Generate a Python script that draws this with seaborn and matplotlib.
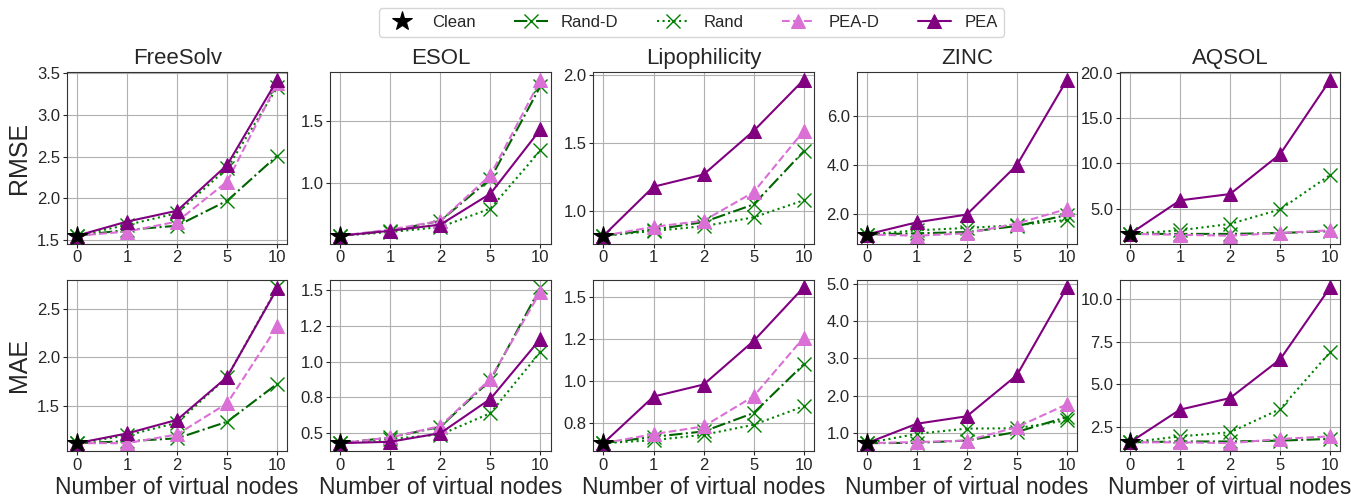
import numpy as np
import pandas as pd
import matplotlib
matplotlib.use("Agg")
import matplotlib.pyplot as plt
from matplotlib.ticker import FormatStrFormatter
import seaborn as sns

sns.set_style("ticks", {"axes.grid": True})
plt.rcParams['font.family'] = ['Liberation Sans', 'DejaVu Sans']

nodes = ["0", "1", "2", "5", "10"]
datasets = ["FreeSolv", "ESOL", "Lipophilicity", "ZINC", "AQSOL"]

# value with no virtual nodes (shared start of every curve)
clean_rmse = [1.55, 0.57, 0.82, 1.15, 2.2]
clean_mae = [1.12, 0.43, 0.63, 0.73, 1.6]

# values at 1, 2, 5, 10 virtual nodes
rand_d_rmse = [[1.62, 1.67, 1.97, 2.51], [0.61, 0.69, 1.03, 1.78], [0.865, 0.92, 1.05, 1.44],
               [1.2, 1.25, 1.5, 1.95], [2.2, 2.2, 2.3, 2.5]]
rand_rmse = [[1.68, 1.82, 2.36, 3.33], [0.60, 0.64, 0.79, 1.26], [0.855, 0.89, 0.955, 1.08],
             [1.32, 1.42, 1.53, 1.75], [2.6, 3.3, 4.9, 8.7]]
pea_d_rmse = [[1.60, 1.72, 2.20, 3.38], [0.62, 0.69, 1.06, 1.83], [0.885, 0.93, 1.14, 1.59],
              [1.1, 1.2, 1.6, 2.2], [2.1, 2.0, 2.3, 2.6]]
pea_rmse = [[1.72, 1.85, 2.40, 3.42], [0.61, 0.66, 0.91, 1.43], [1.18, 1.27, 1.59, 1.965],
            [1.65, 1.97, 4.0, 7.5], [5.9, 6.6, 11.0, 19.2]]

rand_d_mae = [[1.14, 1.17, 1.34, 1.73], [0.47, 0.545, 0.87, 1.52], [0.668, 0.70, 0.81, 1.10],
              [0.74, 0.80, 1.03, 1.43], [1.65, 1.65, 1.7, 1.8]]
rand_mae = [[1.20, 1.33, 1.80, 2.72], [0.46, 0.49, 0.64, 1.07], [0.648, 0.68, 0.74, 0.85],
            [0.98, 1.12, 1.13, 1.34], [1.95, 2.19, 3.55, 6.9]]
pea_d_mae = [[1.12, 1.21, 1.53, 2.32], [0.47, 0.55, 0.88, 1.49], [0.684, 0.73, 0.91, 1.26],
             [0.76, 0.80, 1.16, 1.77], [1.6, 1.55, 1.8, 1.95]]
pea_mae = [[1.22, 1.36, 1.80, 2.71], [0.44, 0.50, 0.74, 1.16], [0.908, 0.98, 1.24, 1.56],
           [1.25, 1.45, 2.55, 4.9], [3.52, 4.2, 6.47, 10.7]]

styles = {
    "Rand-D": dict(color="darkgreen", ls="-.", marker="x", markersize=10.5, mew=1.0, mec="green"),
    "Rand": dict(color="green", ls=":", marker="x", markersize=10.5, mew=1.0, mec="green"),
    "PEA-D": dict(color="orchid", ls="--", marker="^", markersize=9.5, mec="orchid"),
    "PEA": dict(color="purple", ls="-", marker="^", markersize=9.5, mec="purple"),
}

rows = [("RMSE", clean_rmse, {"Rand-D": rand_d_rmse, "Rand": rand_rmse, "PEA-D": pea_d_rmse, "PEA": pea_rmse}),
        ("MAE", clean_mae, {"Rand-D": rand_d_mae, "Rand": rand_mae, "PEA-D": pea_d_mae, "PEA": pea_mae})]

fig, axes = plt.subplots(2, 5, figsize=(13.51, 4.97), dpi=100)
fig.subplots_adjust(left=0.0496, right=0.992, bottom=0.0926, top=0.855, wspace=0.195, hspace=0.21)

xpos = np.arange(len(nodes))
for r, (metric, clean, series) in enumerate(rows):
    for c, name in enumerate(datasets):
        ax = axes[r, c]
        for method, st in styles.items():
            vals = [clean[c]] + series[method][c]
            sns.lineplot(x=xpos, y=vals, ax=ax, label=method, lw=1.5, **st)
        sns.lineplot(x=[0], y=[clean[c]], ax=ax, label="Clean", color="black", ls="",
                     marker="*", markersize=15, mec="black", zorder=5)
        ax.set_xticks(xpos)
        ax.set_xticklabels(nodes)
        ax.yaxis.set_major_formatter(FormatStrFormatter('%.1f'))
        ax.tick_params(labelsize=12, length=3, width=0.8, pad=2)
        ax.grid(True, color="#b0b0b0", lw=0.8)
        for sp in ax.spines.values():
            sp.set_color("#333333")
        ax.legend_.remove()
        ax.set_xlabel("")
        if r == 0:
            ax.set_title(name, fontsize=16)
        else:
            ax.set_xlabel("Number of virtual nodes", fontsize=16.5, labelpad=2)
        if c == 0:
            ax.set_ylabel(metric, fontsize=18)

handles, labels = axes[0, 0].get_legend_handles_labels()
order = [labels.index(l) for l in ["Clean", "Rand-D", "Rand", "PEA-D", "PEA"]]
fig.legend([handles[i] for i in order], [labels[i] for i in order], loc="upper center",
           bbox_to_anchor=(0.512, 1.0), ncol=5, fontsize=12, columnspacing=2.3)

plt.savefig("out.png", dpi=100)
